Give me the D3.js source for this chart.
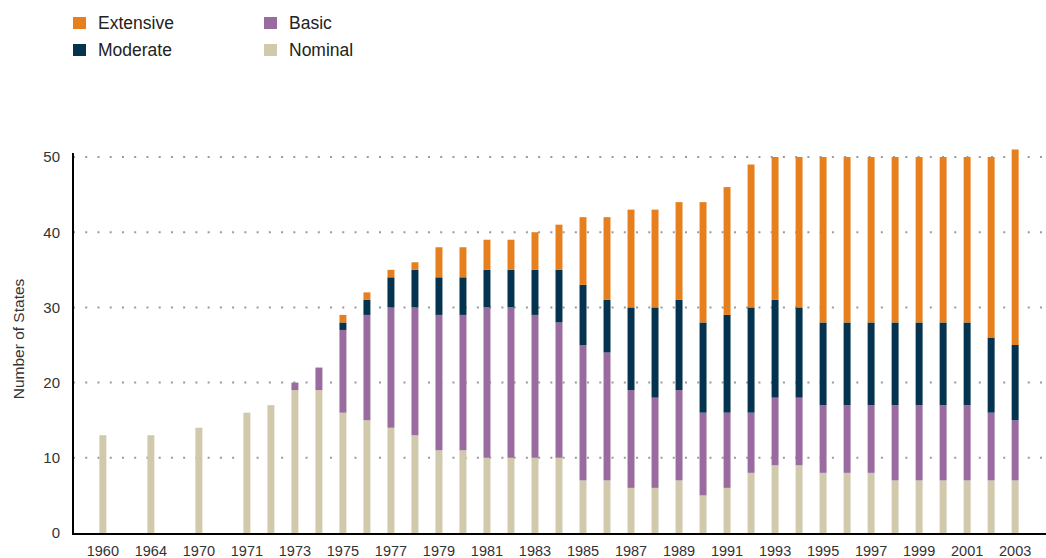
<!DOCTYPE html>
<html>
<head>
<meta charset="utf-8">
<script src="https://cdn.jsdelivr.net/npm/d3@7/dist/d3.min.js"></script>
<style>
  html, body { margin: 0; padding: 0; background: #fff; }
  svg { display: block; font-family: "Liberation Sans", Arial, sans-serif; }
</style>
</head>
<body>
<svg id="chart" width="1046" height="558"></svg>
<script>
// Categories (empty strings are unlabeled gap bands)
const categories = ["1960","","1964","","1970","","1971","1972","1973","1974","1975","1976","1977","1978","1979","1980","1981","1982","1983","1984","1985","1986","1987","1988","1989","1990","1991","1992","1993","1994","1995","1996","1997","1998","1999","2000","2001","2002","2003"];
const nominal   = [13,0,13,0,14,0,16,17,19,19,16,15,14,13,11,11,10,10,10,10, 7, 7, 6, 6, 7, 5, 6, 8, 9, 9, 8, 8, 8, 7, 7, 7, 7, 7, 7];
const basic     = [ 0,0, 0,0, 0,0, 0, 0, 1, 3,11,14,16,17,18,18,20,20,19,18,18,17,13,12,12,11,10, 8, 9, 9, 9, 9, 9,10,10,10,10, 9, 8];
const moderate  = [ 0,0, 0,0, 0,0, 0, 0, 0, 0, 1, 2, 4, 5, 5, 5, 5, 5, 6, 7, 8, 7,11,12,12,12,13,14,13,12,11,11,11,11,11,11,11,10,10];
const extensive = [ 0,0, 0,0, 0,0, 0, 0, 0, 0, 1, 1, 1, 1, 4, 4, 4, 4, 5, 6, 9,11,13,13,13,16,17,19,19,20,22,22,22,22,22,22,22,24,26];
const seriesNames = ["Nominal","Basic","Moderate","Extensive"];
const yTicks = [0,10,20,30,40,50];
const yTitle = "Number of States";
const colors = {Nominal:"#D0C9AC", Basic:"#9A6B9E", Moderate:"#04334F", Extensive:"#E6801E"};

const rows = categories.map((c,i) => ({i, Nominal:nominal[i], Basic:basic[i], Moderate:moderate[i], Extensive:extensive[i]}));
const stacked = d3.stack().keys(seriesNames)(rows);

const svg = d3.select("#chart");
const mLeft = 72, mRight = 1046, mTop = 157, mBottom = 533;

const x = d3.scaleBand().domain(d3.range(categories.length)).range([mLeft, mRight])
  .paddingInner(0.71).paddingOuter(1.14);
const y = d3.scaleLinear().domain([0,50]).range([mBottom, mTop]);

// gridlines
svg.append("g").selectAll("line").data(yTicks.filter(t => t > 0)).join("line")
  .attr("x1", mLeft + 1).attr("x2", mRight)
  .attr("y1", d => y(d)).attr("y2", d => y(d))
  .attr("stroke", "#9a9a9a").attr("stroke-width", 2)
  .attr("stroke-dasharray", "2,10.24");

// bars
svg.append("g").selectAll("g").data(stacked).join("g")
  .attr("fill", d => colors[d.key])
  .selectAll("rect").data(d => d.filter(s => s[1] - s[0] > 0)).join("rect")
  .attr("x", d => x(d.data.i))
  .attr("width", x.bandwidth())
  .attr("y", d => y(d[1]))
  .attr("height", d => y(d[0]) - y(d[1]));

// y axis
const yAxis = svg.append("g").attr("transform", `translate(${mLeft},0)`)
  .call(d3.axisLeft(y).tickValues(yTicks).tickSize(0).tickPadding(12));
yAxis.select(".domain").remove();
yAxis.selectAll("text").attr("font-size", 15).attr("fill", "#333")
  .attr("font-family", "'Liberation Sans', Arial, sans-serif");
svg.append("line").attr("x1", mLeft + 1).attr("x2", mLeft + 1)
  .attr("y1", 153).attr("y2", mBottom + 2).attr("stroke", "#000").attr("stroke-width", 2);

// x axis
const xAxis = svg.append("g").attr("transform", `translate(0,${mBottom})`)
  .call(d3.axisBottom(x).tickValues(d3.range(0, categories.length, 2))
    .tickFormat(i => categories[i]).tickSize(0).tickPadding(13));
xAxis.select(".domain").remove();
xAxis.selectAll("text").attr("font-size", 14.5).attr("fill", "#333")
  .attr("font-family", "'Liberation Sans', Arial, sans-serif");
svg.append("line").attr("x1", mLeft).attr("x2", mRight)
  .attr("y1", mBottom + 1).attr("y2", mBottom + 1).attr("stroke", "#000").attr("stroke-width", 2);

// y title
svg.append("text").attr("transform", `translate(24,${(mTop+mBottom)/2 - 6}) rotate(-90)`)
  .attr("text-anchor", "middle").attr("font-size", 15.5).attr("fill", "#333")
  .text(yTitle);

// legend
const legendItems = [
  {name:"Extensive", x:73, y:17},
  {name:"Moderate", x:73, y:44},
  {name:"Basic", x:264, y:17},
  {name:"Nominal", x:264, y:44}
];
const lg = svg.append("g").selectAll("g").data(legendItems).join("g")
  .attr("transform", d => `translate(${d.x},${d.y})`);
lg.append("rect").attr("width", 13).attr("height", 12).attr("fill", d => colors[d.name]);
lg.append("text").attr("x", 25).attr("y", 11.8).attr("font-size", 17.5).attr("fill", "#222")
  .text(d => d.name);
</script>
</body>
</html>
